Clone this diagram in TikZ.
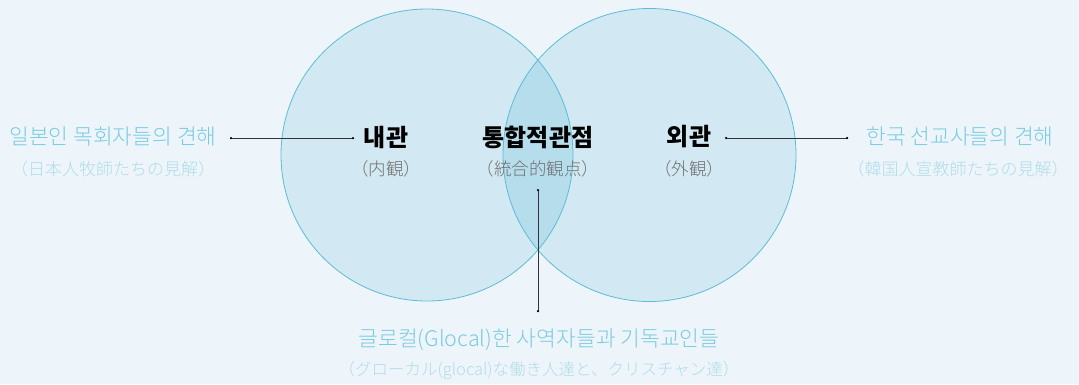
\documentclass[tikz,border=0pt]{standalone}
\usepackage{fontspec}
\newfontfamily\kr{Noto Sans CJK KR}
\newfontfamily\krl{Noto Sans CJK KR Light}
\newfontfamily\jp{Noto Sans CJK JP}
\newfontfamily\jpl{Noto Sans CJK JP Light}
\definecolor{bg}{HTML}{EEF5FA}
\definecolor{cfill}{HTML}{D2E9F3}
\definecolor{cover}{HTML}{B6DDEC}
\definecolor{cline}{HTML}{5BBCD6}
\definecolor{kcol}{HTML}{78CBE0}
\definecolor{jcol}{HTML}{AEDCEA}
\definecolor{gcol}{HTML}{707070}
\tikzset{
  outer/.style={font=\krl\fontsize{21.5}{23}\selectfont, text=kcol, inner sep=0pt},
  outerj/.style={font=\jpl\fontsize{17}{19}\selectfont, text=jcol, inner sep=0pt},
  inner/.style={font=\kr\bfseries\fontsize{24}{26}\selectfont, text=black, inner sep=0pt},
  innerj/.style={font=\jpl\fontsize{17.5}{19}\selectfont, text=gcol, inner sep=0pt},
  conn/.style={draw=black!80, line width=0.9pt},
  dot/.style={circle, fill=black, inner sep=0pt, minimum size=2.5pt},
}
\begin{document}
\begin{tikzpicture}[x=1pt,y=-1pt]
\fill[bg] (0,0) rectangle (1079,384);
\useasboundingbox (0,0) rectangle (1079,384);
% circles
\fill[cfill] (427,155) circle (146);
\fill[cfill] (649.5,155) circle (146.5);
\begin{scope}
\clip (427,155) circle (146);
\fill[cover] (649.5,155) circle (146.5);
\end{scope}
\draw[cline, line width=0.8pt] (427,155) circle (146);
\draw[cline, line width=0.8pt] (649.5,155) circle (146.5);
% inner labels
\node[inner] (nk) at (386,137) {내관};
\node[innerj] (nj) at (386,169) {（内観）};
\node[inner] (tk) at (538,137) {통합적관점};
\node[innerj] (tj) at (538,169) {（統合的観点）};
\node[inner] (ok) at (689,137) {외관};
\node[innerj] (oj) at (689,169) {（外観）};
% outer labels
\node[outer] (lk) at (113,136) {일본인 목회자들의 견해};
\node[outerj] (lj) at (113,169) {（日本人牧師たちの見解）};
\node[outer] (rk) at (960,136) {한국 선교사들의 견해};
\node[outerj] (rj) at (958,169) {（韓国人宣教師たちの見解）};
\node[outer] (bk) at (539,340) {글로컬(Glocal)한 사역자들과 기독교인들};
\node[outerj, font=\jpl\fontsize{16.5}{18}\selectfont] (bj) at (539,371) {（グローカル(glocal)な働き人達と、クリスチャン達）};
% connectors
\coordinate (l1) at (231,138);
\coordinate (l2) at (353,138);
\coordinate (r1) at (726,138);
\coordinate (r2) at (847,138);
\coordinate (v1) at (538,190);
\coordinate (v2) at (538,311);
\draw[conn] (l1) -- (l2);
\draw[conn] (r1) -- (r2);
\draw[conn] (v1) -- (v2);
\foreach \p in {l1,l2,r1,r2,v1,v2} \node[dot] at (\p) {};
\end{tikzpicture}
\end{document}
